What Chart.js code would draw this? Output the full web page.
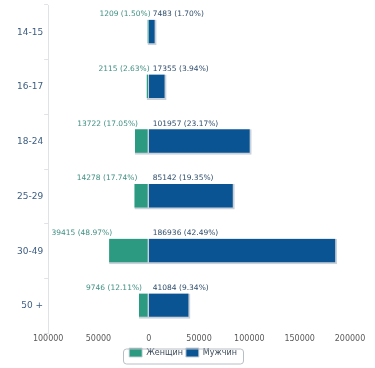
<!DOCTYPE html>
<html lang="ru">
<head>
  <meta charset="UTF-8">
  <title>Возрастные группы</title>
  <script src="https://cdn.jsdelivr.net/npm/chart.js"></script>
  <style>
    html, body { margin: 0; padding: 0; background: #fff; }
    #wrap { width: 375px; height: 368px; }
  </style>
</head>
<body>
<div id="wrap"><canvas id="ageChart" width="375" height="368"></canvas></div>

<script>
const ageGroups = ['14-15', '16-17', '18-24', '25-29', '30-49', '50 +'];
const femaleCounts = [1209, 2115, 13722, 14278, 39415, 9746];
const femalePct = ['1.50', '2.63', '17.05', '17.74', '48.97', '12.11'];
const maleCounts = [7483, 17355, 101957, 85142, 186936, 41084];
const malePct = ['1.70', '3.94', '23.17', '19.35', '42.49', '9.34'];
const xTicks = [-100000, -50000, 0, 50000, 100000, 150000, 200000];

const FONT = "'DejaVu Sans', Verdana, sans-serif";
const green = '#2b9a80';
const blue = '#0b5494';

// labels above each bar, placed from the bar elements themselves
const barLabels = {
  id: 'barLabels',
  afterDatasetsDraw(chart) {
    const ctx = chart.ctx;
    const zero = chart.scales.x.getPixelForValue(0);
    ctx.save();
    ctx.font = '7.5px ' + FONT;
    ctx.textBaseline = 'bottom';
    chart.getDatasetMeta(0).data.forEach((bar, i) => {
      const top = bar.y - bar.height / 2 - 2;
      ctx.fillStyle = '#3f8f80';
      ctx.textAlign = 'right';
      ctx.fillText(`${femaleCounts[i]} (${femalePct[i]}%)`, bar.x + 3, top);
    });
    chart.getDatasetMeta(1).data.forEach((bar, i) => {
      const top = bar.y - bar.height / 2 - 2;
      ctx.fillStyle = '#2f4d6b';
      ctx.textAlign = 'left';
      ctx.fillText(`${maleCounts[i]} (${malePct[i]}%)`, zero + 4, top);
    });
    ctx.restore();
  }
};

// rounded frame around the legend
const legendFrame = {
  id: 'legendFrame',
  afterDraw(chart) {
    const lg = chart.legend;
    if (!lg) return;
    const ctx = chart.ctx;
    const w = 120, h = 15;
    const x = lg.left + (lg.width - w) / 2;
    const y = lg.top + (lg.height - h) / 2;
    ctx.save();
    ctx.strokeStyle = '#b8bec6';
    ctx.lineWidth = 1;
    ctx.beginPath();
    ctx.roundRect(x + 0.5, y + 0.5, w, h, 3);
    ctx.stroke();
    ctx.restore();
  }
};

new Chart(document.getElementById('ageChart'), {
  type: 'bar',
  data: {
    labels: ageGroups,
    datasets: [
      {
        label: 'Женщин',
        data: femaleCounts.map(v => -v),
        backgroundColor: green,
        borderColor: '#c9d2da',
        borderWidth: { top: 0, left: 0, right: 1.5, bottom: 2 },
        borderSkipped: false,
        barThickness: 25
      },
      {
        label: 'Мужчин',
        data: maleCounts,
        backgroundColor: blue,
        borderColor: '#c9d2da',
        borderWidth: { top: 0, left: 0, right: 2, bottom: 2 },
        borderSkipped: false,
        barThickness: 25
      }
    ]
  },
  options: {
    indexAxis: 'y',
    responsive: false,
    animation: false,
    layout: { padding: { top: 5, right: 25, left: 16, bottom: 1 } },
    plugins: {
      legend: {
        position: 'bottom',
        labels: {
          font: { family: FONT, size: 8 },
          color: '#3b4a5a',
          boxWidth: 13,
          boxHeight: 9,
          padding: 3
        }
      },
      tooltip: { enabled: false }
    },
    scales: {
      x: {
        stacked: true,
        min: -100000,
        max: 200000,
        afterBuildTicks(axis) { axis.ticks = xTicks.map(v => ({ value: v })); },
        grid: { display: false, drawTicks: false },
        border: { display: false },
        ticks: {
          callback: v => String(Math.abs(v)),
          font: { family: FONT, size: 8 },
          color: '#5a5a5a',
          maxRotation: 0,
          padding: 1
        }
      },
      y: {
        stacked: true,
        grid: { offset: true, drawOnChartArea: false, tickLength: 4, color: '#dfe3e8' },
        border: { display: true, color: '#dfe3e8' },
        ticks: {
          font: { family: FONT, size: 9, lineHeight: 0.6 },
          color: '#3d5d82',
          padding: 1
        }
      }
    }
  },
  plugins: [barLabels, legendFrame]
});
</script>
</body>
</html>
